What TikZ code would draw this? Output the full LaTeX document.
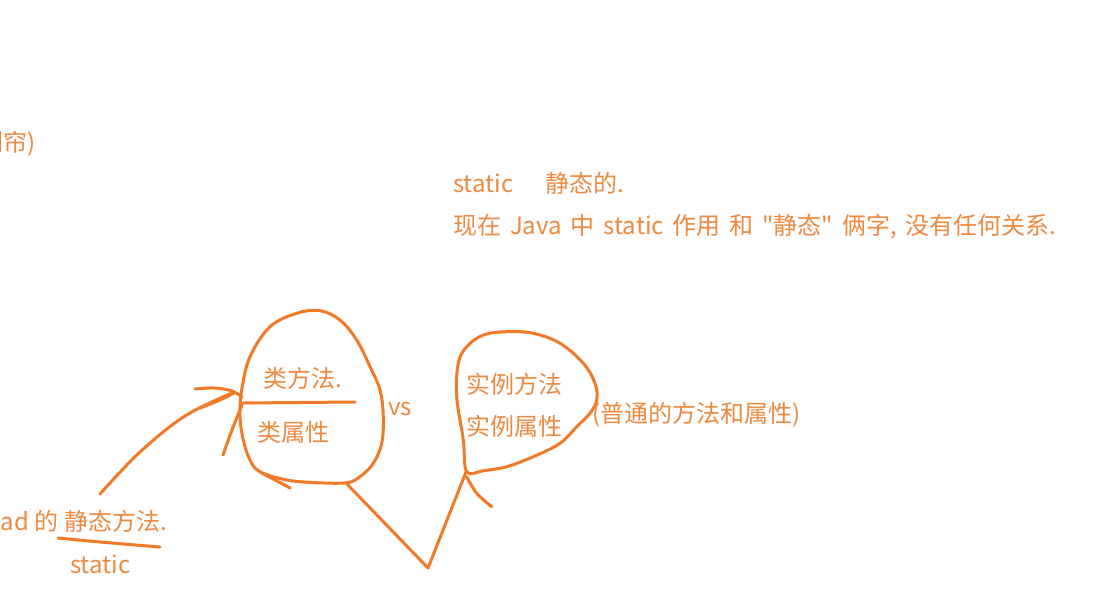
\documentclass[tikz,border=0pt]{standalone}
\usepackage{fontspec}
\newfontfamily\cjkfont{Noto Sans CJK SC}
\definecolor{inkc}{RGB}{240,122,40}
\definecolor{txtc}{RGB}{238,137,64}
\begin{document}
\begin{tikzpicture}[x=1pt,y=-1pt,
  ink/.style={draw=inkc,line width=3pt,line cap=round,line join=round},
  lbl/.style={text=txtc,font=\cjkfont\fontsize{24}{28}\selectfont,inner sep=0pt,text height=0.88em,text depth=0.12em}]
\useasboundingbox[fill=white] (0,0) rectangle (1118,615);
% texts
\node[lbl,anchor=east] (curtain) at (36,148) {刚帘)};
\node[lbl,anchor=west] (st1) at (453,189) {static};
\node[lbl,anchor=west] (jt) at (545,189) {静态的.};
\node[lbl,anchor=west] (line2) at (453,231) {\spaceskip=0.37em\relax 现在 Java 中 static 作用 和 "静态" 俩字, 没有任何关系.};
\node[lbl,anchor=west] (lff) at (263,384) {类方法.};
\node[lbl,anchor=west] (lsx) at (257,438) {类属性};
\node[lbl,anchor=west] (vs) at (388,412) {vs};
\node[lbl,anchor=west] (slff) at (466,390) {实例方法};
\node[lbl,anchor=west] (slsx) at (466,432) {实例属性};
\node[lbl,anchor=west] (pt) at (592,419) {(普通的方法和属性)};
\node[lbl,anchor=east] (thr) at (167,527) {ad 的 静态方法.};
\node[lbl,anchor=west] (st2) at (70,570) {static};
% blobs
\draw[ink] plot[smooth cycle,tension=0.6] coordinates {(241.7,390) (250,356.7) (270,326.7) (296.7,313.3) (320,310.7) (340,320) (356.7,340) (370,366.7) (380,390) (383.3,416.7) (381.7,443.3) (373.3,463.3) (360,476.7) (346.7,482.7) (316.7,482.7) (286.7,480) (260,471.7) (250,460) (243.3,440) (240,416.7)};
\draw[ink] plot[smooth cycle,tension=0.6] coordinates {(466.7,471.7) (463.3,440) (456.7,396.7) (458.3,363.3) (466.7,346.7) (483.3,335) (506.7,331.7) (533.3,333.3) (560,343.3) (583.3,363.3) (595,383.3) (596.7,400) (590,413.3) (576.7,426.7) (560,443.3) (533.3,456.7) (506.7,466.7) (483.3,470.7)};
% junction coordinates
\coordinate (jl) at (242,397);
\coordinate (divend) at (355,402);
\coordinate (divstart) at (243,403);
\coordinate (b1low) at (346,483);
\coordinate (b2low) at (466,472);
\coordinate (vtip) at (428,568);
\coordinate (b1tailA) at (260,472);
\coordinate (b1tailB) at (290,488);
% arrow from static method text
\draw[ink] plot[smooth,tension=0.6] coordinates {(100,494) (140,452) (185,416) (232,393)};
\draw[ink] plot[smooth,tension=0.6] coordinates {(195,389) (215,388) (232,391) (jl)};
\draw[ink] plot[smooth,tension=0.6] coordinates {(200,408) (220,400) (234,393)};
\draw[ink] plot[smooth,tension=0.6] coordinates {(242,405) (232,430) (223,455)};
% divider
\draw[ink] (divstart) -- (divend);
% tails
\draw[ink] (b1tailA) -- (b1tailB);
\draw[ink] (b1low) -- (vtip);
\draw[ink] (b2low) -- (vtip);
\draw[ink] plot[smooth,tension=0.6] coordinates {(466.7,476.7) (476.7,493.3) (491.7,506.7)};
% underline
\draw[ink] plot[smooth,tension=0.6] coordinates {(58,538) (100,542) (160,547)};
\end{tikzpicture}
\end{document}
